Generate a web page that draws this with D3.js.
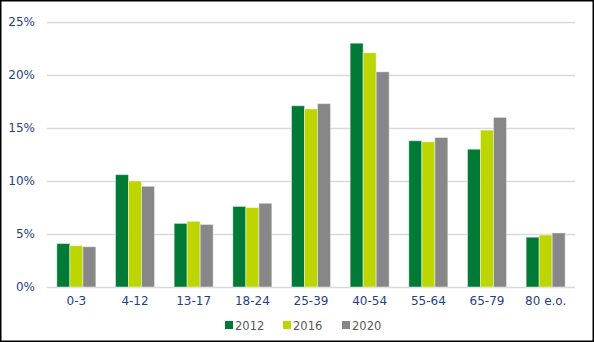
<!DOCTYPE html>
<html>
<head>
<meta charset="utf-8">
<script src="https://cdn.jsdelivr.net/npm/d3@7/dist/d3.min.js"></script>
<style>
  html, body { margin: 0; padding: 0; background: #fff; }
  svg { display: block; }
  text { font-family: "DejaVu Sans", Verdana, sans-serif; }
</style>
</head>
<body>
<svg id="chart" width="594" height="342"></svg>
<script>
// Age groups and share of population (%) per survey year
const categories = ["0-3", "4-12", "13-17", "18-24", "25-39", "40-54", "55-64", "65-79", "80 e.o."];
const years = ["2012", "2016", "2020"];
const values2012 = [4.1, 10.6, 6.0, 7.6, 17.1, 23.0, 13.8, 13.0, 4.7];
const values2016 = [3.9, 10.0, 6.2, 7.5, 16.8, 22.1, 13.7, 14.8, 4.9];
const values2020 = [3.8, 9.5, 5.9, 7.9, 17.3, 20.3, 14.1, 16.0, 5.1];
const yTicks = [0, 5, 10, 15, 20, 25];

const seriesValues = [values2012, values2016, values2020];
const colors = ["#007A37", "#BED600", "#878787"];
const axisText = "#1F3F86";

const svg = d3.select("#chart");
const W = 594, H = 342;

// outer frame
svg.append("rect")
  .attr("x", 0.75).attr("y", 0.75)
  .attr("width", W - 1.5).attr("height", H - 1.5)
  .attr("fill", "#fff").attr("stroke", "#000").attr("stroke-width", 1.5);

const margin = { left: 47, right: 19, top: 22, bottom: 55 };
const plotW = W - margin.left - margin.right;
const plotH = H - margin.top - margin.bottom;

const x = d3.scaleBand().domain(categories).range([margin.left, margin.left + plotW]).paddingInner(0.335).paddingOuter(0.1675);
const xs = d3.scaleBand().domain(years).range([0, x.bandwidth()]);
const y = d3.scaleLinear().domain([0, 25]).range([margin.top + plotH, margin.top]);

// horizontal gridlines
svg.append("g")
  .selectAll("line")
  .data(yTicks)
  .join("line")
  .attr("x1", margin.left).attr("x2", margin.left + plotW)
  .attr("y1", d => Math.round(y(d)) + 0.5).attr("y2", d => Math.round(y(d)) + 0.5)
  .attr("stroke", "#D9D9D9").attr("stroke-width", 1.3);

// y-axis labels
const yAxis = d3.axisLeft(y).tickValues(yTicks).tickFormat(d => d + "%").tickSize(0).tickPadding(12);
const gy = svg.append("g").attr("transform", `translate(${margin.left},0)`).call(yAxis);
gy.select(".domain").remove();
gy.selectAll("text").attr("fill", axisText).style("font-size", "12px");

// bars
const groups = svg.append("g")
  .selectAll("g")
  .data(categories)
  .join("g")
  .attr("transform", d => `translate(${x(d)},0)`);

groups.selectAll("rect")
  .data((c, i) => years.map((yr, k) => ({ yr, v: seriesValues[k][i], k })))
  .join("rect")
  .attr("x", d => xs(d.yr))
  .attr("width", xs.bandwidth())
  .attr("y", d => y(d.v))
  .attr("height", d => y(0) - y(d.v))
  .attr("fill", d => colors[d.k])
  .attr("stroke", "rgba(255,255,255,0.45)")
  .attr("stroke-width", 1);

// x-axis labels
const xAxis = d3.axisBottom(x).tickSize(0).tickPadding(9);
const gx = svg.append("g").attr("transform", `translate(0,${margin.top + plotH})`).call(xAxis);
gx.select(".domain").remove();
gx.selectAll("text").attr("fill", axisText).style("font-size", "12px");

// legend
const legendX = [225, 283, 342];
const legend = svg.append("g")
  .selectAll("g")
  .data(years)
  .join("g")
  .attr("transform", (d, i) => `translate(${legendX[i]},321)`);
legend.append("rect")
  .attr("width", 8).attr("height", 8)
  .attr("fill", (d, i) => colors[i]);
legend.append("text")
  .attr("x", 10).attr("y", 8.5)
  .attr("fill", "#595959")
  .style("font-size", "11.5px")
  .text(d => d);
</script>
</body>
</html>
